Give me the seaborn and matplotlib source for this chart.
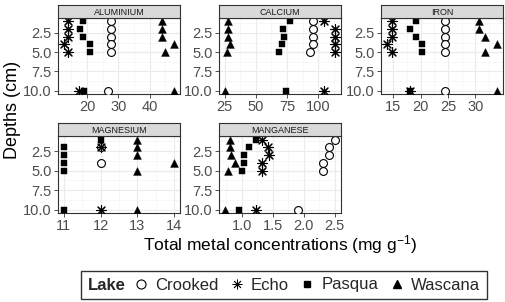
import matplotlib
matplotlib.use("Agg")
import matplotlib.pyplot as plt
from matplotlib.lines import Line2D
from matplotlib.offsetbox import HPacker
import seaborn as sns
import pandas as pd
import numpy as np

# ---------------- data ----------------
depths = [1, 2, 3, 4, 5, 10]
metals = ["ALUMINIUM", "CALCIUM", "IRON", "MAGNESIUM", "MANGANESE"]
lakes = ["Crooked", "Echo", "Pasqua", "Wascana"]

aluminium_crooked = [27.8, 27.8, 27.8, 27.8, 27.8, 26.7]
aluminium_echo = [13.9, 13.9, 13.9, 12.5, 13.9, 17.4]
aluminium_pasqua = [18.7, 17.9, 18.7, 20.8, 20.8, 18.9]
aluminium_wascana = [44.0, 44.0, 44.0, 47.9, 45.0, 47.7]

calcium_crooked = [95.7, 95.7, 95.7, 95.7, 93.5, None]
calcium_echo = [104.8, 113.7, 113.7, 113.7, 113.7, 104.8]
calcium_pasqua = [77.4, 71.5, 72.8, 70.7, 68.8, 74.2]
calcium_wascana = [27.7, 27.7, 27.7, 29.6, 27.2, 25.0]

iron_crooked = [24.4, 24.4, 24.4, 24.4, 24.4, 24.4]
iron_echo = [14.8, 14.8, 14.8, 13.8, 14.8, 18.0]
iron_pasqua = [19.1, 18.0, 19.1, 20.2, 20.2, 18.0]
iron_wascana = [30.7, 30.7, 31.7, 33.9, 31.8, 34.0]

magnesium_crooked = [None, 12.0, None, 12.0, None, None]
magnesium_echo = [None, 12.0, None, None, None, 12.0]
magnesium_pasqua = [12.0, 11.0, 11.0, 11.0, 11.0, 11.0]
magnesium_wascana = [13.0, 13.0, 13.0, 14.0, 13.0, 13.0]

manganese_crooked = [2.51, 2.40, 2.40, 2.31, 2.31, 1.91]
manganese_echo = [1.33, 1.42, 1.44, 1.33, 1.33, 1.23]
manganese_pasqua = [1.22, 1.12, 1.03, 1.03, 1.00, 0.96]
manganese_wascana = [0.81, 0.81, 0.83, 0.89, 0.78, 0.72]

x_ticks = {
    "ALUMINIUM": [20, 30, 40],
    "CALCIUM": [25, 50, 75, 100],
    "IRON": [15, 20, 25, 30],
    "MAGNESIUM": [11, 12, 13, 14],
    "MANGANESE": [1.0, 1.5, 2.0, 2.5],
}
x_minor = {
    "ALUMINIUM": [15, 25, 35, 45],
    "CALCIUM": [37.5, 62.5, 87.5, 112.5],
    "IRON": [17.5, 22.5, 27.5, 32.5],
    "MAGNESIUM": [11.5, 12.5, 13.5],
    "MANGANESE": [0.75, 1.25, 1.75, 2.25],
}
x_ticklabels = {
    "ALUMINIUM": ["20", "30", "40"],
    "CALCIUM": ["25", "50", "75", "100"],
    "IRON": ["15", "20", "25", "30"],
    "MAGNESIUM": ["11", "12", "13", "14"],
    "MANGANESE": ["1.0", "1.5", "2.0", "2.5"],
}
y_ticks = [2.5, 5.0, 7.5, 10.0]
y_ticklabels = ["2.5", "5.0", "7.5", "10.0"]
y_minor = [1.25, 3.75, 6.25, 8.75]

series = {
    "ALUMINIUM": [aluminium_crooked, aluminium_echo, aluminium_pasqua, aluminium_wascana],
    "CALCIUM": [calcium_crooked, calcium_echo, calcium_pasqua, calcium_wascana],
    "IRON": [iron_crooked, iron_echo, iron_pasqua, iron_wascana],
    "MAGNESIUM": [magnesium_crooked, magnesium_echo, magnesium_pasqua, magnesium_wascana],
    "MANGANESE": [manganese_crooked, manganese_echo, manganese_pasqua, manganese_wascana],
}

rows = []
for m in metals:
    for lake, vals in zip(lakes, series[m]):
        for d, v in zip(depths, vals):
            if v is not None:
                rows.append({"metal": m, "lake": lake, "depth": d, "value": v})
df = pd.DataFrame(rows)

# ---------------- style ----------------
sns.set_theme(style="white")
plt.rcParams["font.family"] = ["Liberation Sans", "DejaVu Sans"]
plt.rcParams["mathtext.fontset"] = "custom"
plt.rcParams["mathtext.rm"] = "Liberation Sans"
plt.rcParams["mathtext.it"] = "Liberation Sans:italic"

marker_style = {
    "Crooked": dict(marker="o", s=32, facecolor="white", edgecolor="black", linewidth=0.8),
    "Echo": dict(marker=(8, 2, 0), s=50, color="black", linewidth=0.8),
    "Pasqua": dict(marker="s", s=24, color="black", edgecolor="black", linewidth=0.3),
    "Wascana": dict(marker="^", s=32, color="black", edgecolor="black", linewidth=0.3),
}

W, H = 505, 302
fig = plt.figure(figsize=(W / 100, H / 100), dpi=100)

pw = 122
panel_x = {"ALUMINIUM": 58, "CALCIUM": 219, "IRON": 381, "MAGNESIUM": 58, "MANGANESE": 219}
panel_y = {"ALUMINIUM": (18, 94), "CALCIUM": (18, 94), "IRON": (18, 94),
           "MAGNESIUM": (136, 213), "MANGANESE": (136, 213)}
strip_h = 13

for m in metals:
    x0 = panel_x[m]
    top, bot = panel_y[m]
    ax = fig.add_axes([x0 / W, 1 - bot / H, pw / W, (bot - top) / H])
    sub = df[df.metal == m]
    for lake in lakes:
        d = sub[sub.lake == lake]
        if len(d):
            sns.scatterplot(data=d, x="value", y="depth", ax=ax, legend=False,
                            zorder=3, **marker_style[lake])
    ax.margins(x=0.05, y=0.05)
    ax.autoscale_view()
    ax.set_ylim(10.45, 0.55)
    ax.set_xticks(x_ticks[m])
    ax.set_xticklabels(x_ticklabels[m])
    ax.set_xticks(x_minor[m], minor=True)
    ax.set_yticks(y_ticks)
    ax.set_yticklabels(y_ticklabels)
    ax.set_yticks(y_minor, minor=True)
    ax.grid(True, which="major", color="#EBEBEB", linewidth=0.8)
    ax.grid(True, which="minor", color="#F2F2F2", linewidth=0.4)
    ax.set_axisbelow(True)
    ax.set_xlabel("")
    ax.set_ylabel("")
    ax.tick_params(axis="both", which="major", length=3, width=0.6, color="#333333",
                   labelsize=10.5, labelcolor="#4D4D4D", pad=1.5, bottom=True, left=True)
    ax.tick_params(axis="both", which="minor", length=0)
    for sp in ax.spines.values():
        sp.set_color("#333333")
        sp.set_linewidth(0.8)
    # strip
    sax = fig.add_axes([x0 / W, 1 - top / H, pw / W, strip_h / H])
    sax.set_facecolor("#D9D9D9")
    sax.set_xticks([])
    sax.set_yticks([])
    for sp in sax.spines.values():
        sp.set_color("#333333")
        sp.set_linewidth(0.8)
    sax.text(0.5, 0.45, m, ha="center", va="center", fontsize=6.5, color="#1A1A1A",
             transform=sax.transAxes)

fig.text(0.024, 1 - 110 / H, "Depths (cm)", rotation=90, ha="center", va="center",
         fontsize=13, color="black")
fig.text(280 / W, 1 - 245 / H, "Total metal concentrations (mg g$^{-1}$)", ha="center",
         va="center", fontsize=12.5, color="black")

# legend (title placed to the left of the keys, as in ggplot bottom legends)
legend_marker = {
    "Crooked": dict(marker="o", markersize=6.5, markerfacecolor="white", markeredgecolor="black", markeredgewidth=0.8),
    "Echo": dict(marker=(8, 2, 0), markersize=7, color="black", markeredgewidth=0.6),
    "Pasqua": dict(marker="s", markersize=5, color="black"),
    "Wascana": dict(marker="^", markersize=6, color="black"),
}
handles = [Line2D([], [], linestyle="none", **legend_marker[l]) for l in lakes]
leg = fig.legend(handles, lakes, loc="center", bbox_to_anchor=(284 / W, 1 - 285 / H),
                 ncol=4, frameon=True, fancybox=False, edgecolor="black", fontsize=12,
                 title="Lake", title_fontproperties={"weight": "bold", "size": 12},
                 handlelength=0.6, handletextpad=0.55, columnspacing=0.8, borderpad=0.4,
                 borderaxespad=0)
leg.get_frame().set_linewidth(1.0)
try:
    vp = leg._legend_box
    kids = vp.get_children()
    hp = HPacker(pad=0, sep=7, align="center", children=kids)
    vp._children = [hp]
except Exception:
    pass

fig.savefig("out.png", dpi=100)
